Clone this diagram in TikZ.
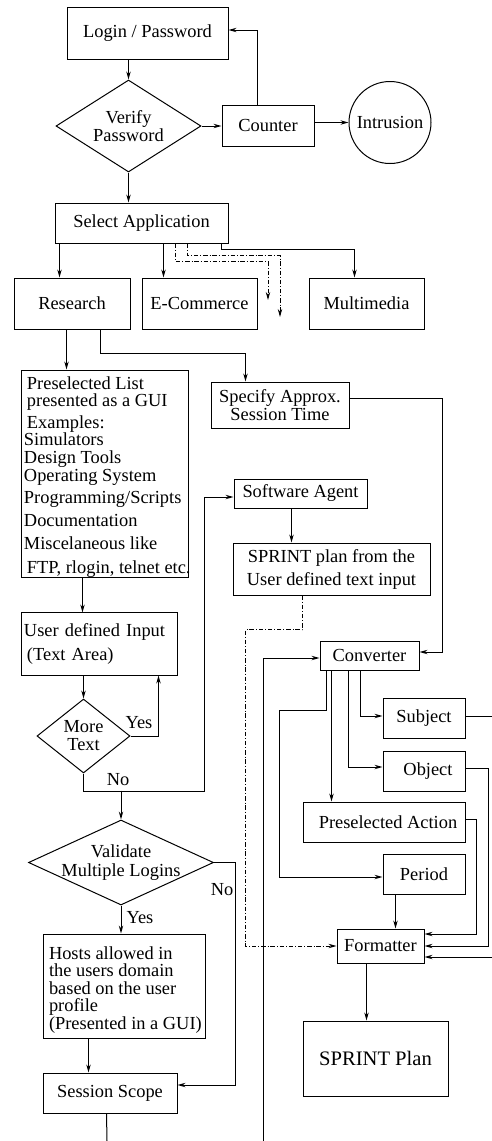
\documentclass[tikz,border=0pt]{standalone}
\usepackage{fontspec}
\setmainfont{Liberation Serif}
\usetikzlibrary{shapes.geometric,arrows.meta,calc}
\begin{document}
\begin{tikzpicture}[
  x=0.5pt, y=-0.5pt,
  line width=0.5pt,
  txt/.style={font=\fontsize{9.2}{9}\selectfont},
  box/.style={txt, draw, rectangle, inner sep=0pt, align=center},
  dia/.style={txt, draw, diamond, inner sep=-4pt, align=center},
  lbl/.style={txt, inner sep=0pt},
  inner/.style={txt, inner sep=0pt, align=left, anchor=west},
  arr/.style={-{Stealth[length=4pt,width=2.2pt,inset=1.3pt]}},
  ddot/.style={line width=0.4pt, dash pattern=on 2.2pt off 1pt on 0.4pt off 1pt}
]
\useasboundingbox (0,0) rectangle (492,1141);

% ---- login and intrusion check ----
\node[box, minimum width=80.5pt, minimum height=26pt] (login) at (147.5,33) {Login / Password};
\node[dia, minimum width=72.5pt, minimum height=46pt, aspect=1.58] (verify) at (128.5,126) {Verify\\Password};
\node[box, minimum width=46pt, minimum height=20.5pt] (counter) at (268,125.5) {Counter};
\node[txt, draw, circle, minimum size=41pt, inner sep=0pt] (intr) at (390,122.5) {Intrusion};

% ---- application choice ----
\node[box, minimum width=86.5pt, minimum height=20pt] (select) at (141.5,223) {Select Application};
\node[box, minimum width=58pt, minimum height=25.5pt] (research) at (72,303.5) {Research};
\node[box, minimum width=57.5pt, minimum height=25.5pt] (ecom) at (199.5,303.5) {E-Commerce};
\node[box, minimum width=57.5pt, minimum height=25.5pt] (multi) at (366.5,303.5) {Multimedia};
\coordinate (otherA) at (268,300);
\coordinate (otherB) at (280,317);

% ---- research branch ----
\node[box, minimum width=83.5pt, minimum height=103.5pt] (plist) at (104.5,473.5) {};
\node[inner] (plisttext) at ($(plist.west)+(3,4)$)
  {\hspace{1.5pt}Preselected List\\[-0.5pt]
   \hspace{1.5pt}presented as a GUI\\[2pt]
   \hspace{1.5pt}Examples:\\[-0.5pt]
   Simulators\\
   Design Tools\\
   Operating System\\[2pt]
   Programming/Scripts\\[2.5pt]
   Documentation\\[2.5pt]
   Miscelaneous like\\[3pt]
   \hspace{1.5pt}FTP, rlogin, telnet etc.};
\node[box, minimum width=69pt, minimum height=23pt] (spec) at (280,405) {Specify Approx.\\Session Time};
\node[box, minimum width=66.5pt, minimum height=14.5pt] (agent) at (300.5,493.5) {Software Agent};
\node[box, minimum width=98.5pt, minimum height=26pt] (sptext) at (331.5,569) {SPRINT plan from the\\[2.5pt]User defined text input};
\node[box, align=left, text width=75pt, inner xsep=1.5pt, minimum height=31.5pt] (udef) at (99,643.5)
  {User defined Input\\[3pt]\hspace{1.5pt}(Text Area)};
\node[dia, minimum width=46.5pt, minimum height=37pt, aspect=1.26] (more) at (83.5,736) {More\\Text};
\node[dia, minimum width=92.5pt, minimum height=42.5pt, aspect=2.18] (valid) at (121,862.5) {Validate\\[0.5pt]Multiple Logins};
\node[box, minimum width=81pt, minimum height=52pt] (hosts) at (124,986) {};
\node[inner, font=\fontsize{9.2}{8.75}\selectfont] (hoststext) at ($(hosts.west)+(6,4)$)
  {Hosts allowed in\\the users domain\\based on the user\\profile\\(Presented in a GUI)};
\node[box, minimum width=67pt, minimum height=20pt] (session) at (110,1093) {Session Scope};
\coordinate (sessOut) at (107,1141);

% ---- plan building ----
\node[box, minimum width=49.5pt, minimum height=14.5pt] (conv) at (369.5,655.5) {Converter};
\node[box, minimum width=41pt, minimum height=20pt] (subject) at (424,718) {Subject};
\node[box, minimum width=41pt, minimum height=20pt] (object) at (424,771) {\hspace{4pt}Object};
\node[box, minimum width=81pt, minimum height=20pt] (presact) at (384,822) {\hspace{4pt}Preselected Action};
\node[box, minimum width=41pt, minimum height=20pt] (period) at (424,874) {Period};
\node[box, minimum width=43.5pt, minimum height=17pt] (fmt) at (380.5,946) {Formatter};
\node[box, minimum width=72.5pt, minimum height=37.5pt, font=\fontsize{10.3}{11}\selectfont] (plan) at (375.5,1058.5) {SPRINT Plan};
\coordinate (convIn) at (263,1141);
\coordinate (subjOut) at (492,716);
\coordinate (fmtIn) at (492,957);

% ---- connectors: login ----
\draw[arr] (verify.north |- login.south) -- (verify.north);
\draw[arr] (verify.east) -- (verify.east -| counter.west);
\draw[arr] ([xshift=-5.5pt]counter.north) |- ([yshift=1.5pt]login.east);
\draw[arr] (intr.west -| counter.east) -- (intr.west);
\draw[arr] (verify.south) -- (verify.south |- select.north);

% ---- connectors: applications ----
\draw[arr] ($(select.south west)+(5,0)$) -- ($(research.north west)+(46,0)$);
\draw[arr] ($(select.south west)+(109,0)$) -- ($(ecom.north west)+(22,0)$);
\draw[arr] ($(select.south west)+(167,0)$) -- ++(0,6) -| ($(multi.north west)+(46,0)$);
\draw[ddot, arr] ($(select.south west)+(121,0)$) -- ++(0,18) -| (otherA);
\draw[ddot, arr] ($(select.south west)+(133,0)$) -- ++(0,12) -| (otherB);

% ---- connectors: research ----
\draw[arr] ($(research.south west)+(53,0)$) -- ($(plist.north west)+(46,0)$);
\draw[arr] ($(research.south west)+(87,0)$) -- ++(0,24) -| ($(spec.north west)+(35,0)$);
\draw[arr] ($(plist.south west)+(62,0)$) -- ($(udef.south west)+(62,-63)$);
\draw[arr] ($(spec.north east)+(0,17)$) -- ++(93,0) |- ($(conv.east)+(0,-3.5)$);
\draw[arr] ($(agent.south west)+(58,0)$) -- ($(sptext.north west)+(59,0)$);
\draw[ddot, arr] ($(sptext.south west)+(70,0)$) -- ++(0,34) -- ++(-57,0) |- (fmt.west);
\draw[arr] (more.north |- udef.south) -- (more.north);
\draw[arr] (more.east) -| ($(udef.south west)+(138,0)$);
\node[lbl] (yes1) at (139,723) {Yes};
\draw[arr] (more.south) -- ++(0,18) -| ($(agent.west)+(-29,3.5)$) -- ($(agent.west)+(0,3.5)$);
\node[lbl] (no1) at (118,780) {No};
\draw[arr] ($(valid.north)+(0,-29)$) -- (valid.north);
\draw[arr] (valid.east) -- ++(21,0) |- ($(session.east)+(0,-8)$);
\node[lbl] (no2) at (222,890) {No};
\draw[arr] (valid.south) -- (valid.south |- hosts.north);
\node[lbl] (yes2) at (140,918) {Yes};
\draw[arr] ($(hosts.south west)+(46,0)$) -- ($(session.north west)+(46,0)$);
\draw ($(session.south west)+(64,0)$) -- (sessOut);

% ---- connectors: converter and formatter ----
\draw[arr] (convIn) |- ($(conv.west)+(0,2.5)$);
\draw[arr] ($(conv.south west)+(7,0)$) -- ++(0,40) -- ++(-47,0) |- ($(period.west)+(0,3)$);
\draw[arr] ($(conv.south west)+(12,0)$) -- ($(presact.north west)+(29,0)$);
\draw[arr] ($(conv.south west)+(29,0)$) |- ($(object.west)+(0,-4)$);
\draw[arr] ($(conv.south west)+(41,0)$) |- ($(subject.west)+(0,-2)$);
\draw ($(subject.east)+(0,-2)$) -- (subjOut);
\draw[arr] (fmtIn) -- ($(fmt.east)+(0,11)$);
\draw[arr] ($(object.east)+(0,-3)$) -- ++(23,0) |- (fmt.east);
\draw[arr] ($(presact.east)+(0,-3)$) -- ++(11,0) |- ($(fmt.east)+(0,-12)$);
\draw[arr] ($(period.south west)+(13,0)$) -- ($(fmt.north west)+(59,0)$);
\draw[arr] ($(fmt.south west)+(30,0)$) -- ($(plan.north west)+(64,0)$);
\end{tikzpicture}
\end{document}
